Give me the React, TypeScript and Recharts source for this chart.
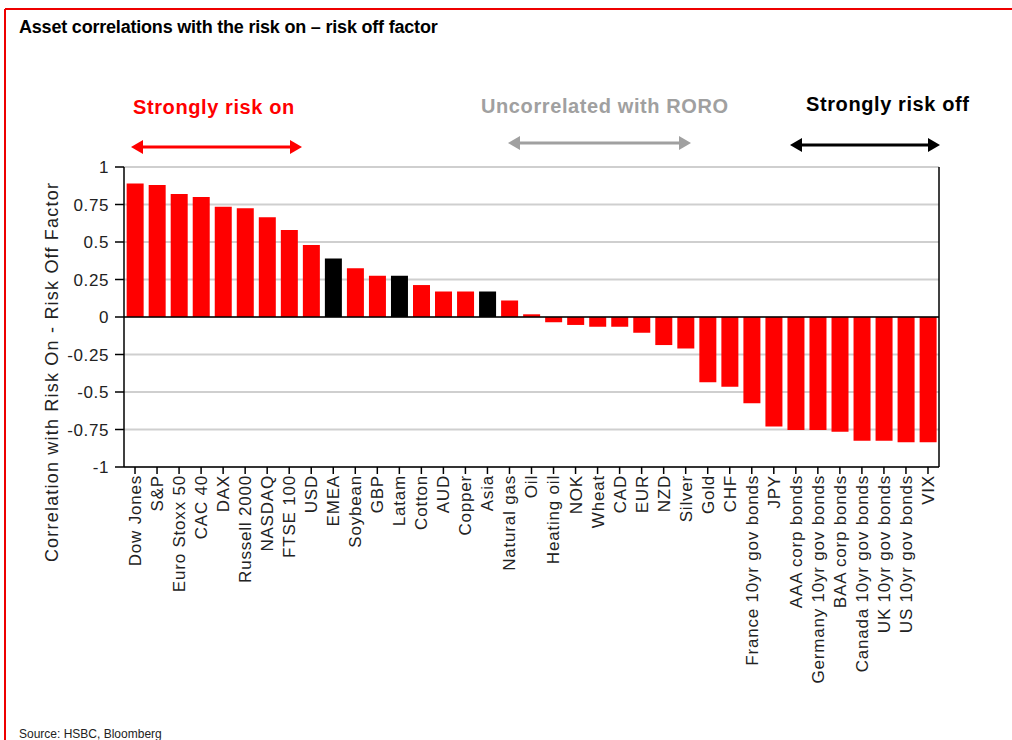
import { BarChart, Bar, XAxis, YAxis, CartesianGrid, ReferenceLine, Cell } from "recharts";

const assets = [
  "Dow Jones", "S&P", "Euro Stoxx 50", "CAC 40", "DAX", "Russell 2000", "NASDAQ", "FTSE 100",
  "USD", "EMEA", "Soybean", "GBP", "Latam", "Cotton", "AUD", "Copper", "Asia", "Natural gas",
  "Oil", "Heating oil", "NOK", "Wheat", "CAD", "EUR", "NZD", "Silver", "Gold", "CHF",
  "France 10yr gov bonds", "JPY", "AAA corp bonds", "Germany 10yr gov bonds", "BAA corp bonds",
  "Canada 10yr gov bonds", "UK 10yr gov bonds", "US 10yr gov bonds", "VIX",
];

const correlations = [
  0.89, 0.88, 0.82, 0.8, 0.735, 0.725, 0.665, 0.58,
  0.48, 0.39, 0.325, 0.275, 0.275, 0.213, 0.17, 0.17, 0.17, 0.11,
  0.018, -0.035, -0.053, -0.065, -0.065, -0.105, -0.187, -0.21, -0.435, -0.465,
  -0.575, -0.73, -0.753, -0.753, -0.765,
  -0.825, -0.825, -0.835, -0.835,
];

// regional equity aggregates drawn in black
const blackAssets = ["EMEA", "Latam", "Asia"];

const yTicks = [-1, -0.75, -0.5, -0.25, 0, 0.25, 0.5, 0.75, 1];

const data = assets.map((name, i) => ({ name, value: correlations[i] }));

const FONT = "'Liberation Sans', Arial, sans-serif";

const XTick = ({ x, y, payload }: any) => (
  <g transform={`translate(${x},${y})`}>
    <text
      x={0}
      y={0}
      dy="0.35em"
      transform="rotate(-90)"
      textAnchor="end"
      fill="#222"
      fontSize={17}
      letterSpacing={0.8}
      fontFamily={FONT}
    >
      {payload.value}
    </text>
  </g>
);

const Arrow = ({ x1, x2, y, color }: { x1: number; x2: number; y: number; color: string }) => (
  <g>
    <line x1={x1 + 8} x2={x2 - 8} y1={y} y2={y} stroke={color} strokeWidth={3} />
    <polygon points={`${x1},${y} ${x1 + 12},${y - 7} ${x1 + 12},${y + 7}`} fill={color} />
    <polygon points={`${x2},${y} ${x2 - 12},${y - 7} ${x2 - 12},${y + 7}`} fill={color} />
  </g>
);

export default function App() {
  const tickStyle = { fill: "#222", fontSize: 17, fontFamily: FONT, letterSpacing: 0.6 };
  return (
    <div style={{ position: "absolute", left: 0, top: 0, width: 1012, height: 740, background: "#fff", overflow: "hidden" }}>
      <BarChart
        width={1012}
        height={740}
        data={data}
        margin={{ top: 167, right: 13, bottom: 0, left: 54 }}
        barCategoryGap="12%"
      >
        <CartesianGrid yAxisId="left" vertical={false} stroke="#cfcfcf" strokeWidth={2} />
        <XAxis
          dataKey="name"
          interval={0}
          height={273}
          tick={<XTick />}
          tickSize={7}
          tickMargin={1}
          axisLine={{ stroke: "#000", strokeWidth: 1.5 }}
          tickLine={{ stroke: "#000", strokeWidth: 1.5 }}
        />
        <YAxis
          yAxisId="left"
          width={70}
          domain={[-1, 1]}
          ticks={yTicks}
          interval={0}
          tick={tickStyle}
          tickSize={9}
          tickMargin={6}
          axisLine={{ stroke: "#000", strokeWidth: 1.5 }}
          tickLine={{ stroke: "#000", strokeWidth: 1.5 }}
        />
        <YAxis
          yAxisId="right"
          orientation="right"
          width={60}
          domain={[-1, 1]}
          ticks={yTicks}
          interval={0}
          tick={tickStyle}
          tickSize={9}
          tickMargin={4}
          axisLine={{ stroke: "#000", strokeWidth: 1.5 }}
          tickLine={{ stroke: "#000", strokeWidth: 1.5 }}
        />
        <Bar yAxisId="left" dataKey="value" isAnimationActive={false}>
          {data.map((d) => (
            <Cell key={d.name} fill={blackAssets.includes(d.name) ? "#000" : "#ff0000"} />
          ))}
        </Bar>
        <ReferenceLine yAxisId="left" y={0} stroke="#000" strokeWidth={1.5} />
      </BarChart>

      <svg
        width={1012}
        height={740}
        style={{ position: "absolute", left: 0, top: 0, pointerEvents: "none" }}
      >
        <line x1={5} y1={9} x2={1012} y2={9} stroke="#ee0000" strokeWidth={2} />
        <line x1={5} y1={9} x2={5} y2={740} stroke="#ee0000" strokeWidth={2} />
        <text x={19} y={33} fontFamily="'Liberation Sans Narrow', 'Arial Narrow', Arial, sans-serif" fontWeight="bold" fontSize={18} letterSpacing={-0.2} fill="#000">
          Asset correlations with the risk on – risk off factor
        </text>
        <text x={133} y={114} fontFamily={FONT} fontWeight="bold" fontSize={20} letterSpacing={0.6} fill="#ff0000">
          Strongly risk on
        </text>
        <text x={481} y={113} fontFamily={FONT} fontWeight="bold" fontSize={20} letterSpacing={0.6} fill="#a0a0a0">
          Uncorrelated with RORO
        </text>
        <text x={806} y={111} fontFamily={FONT} fontWeight="bold" fontSize={20} letterSpacing={0.6} fill="#000">
          Strongly risk off
        </text>
        <Arrow x1={131} x2={302} y={147} color="#ff0000" />
        <Arrow x1={508} x2={691} y={143} color="#a0a0a0" />
        <Arrow x1={790} x2={940} y={145} color="#000" />
        <text
          x={0}
          y={0}
          transform="translate(58,372) rotate(-90)"
          textAnchor="middle"
          fontFamily={FONT}
          fontSize={18}
          letterSpacing={1.2}
          fill="#222"
        >
          Correlation with Risk On - Risk Off Factor
        </text>
        <text x={19} y={738} fontFamily={FONT} fontSize={12} fill="#222">
          Source: HSBC, Bloomberg
        </text>
      </svg>
    </div>
  );
}
